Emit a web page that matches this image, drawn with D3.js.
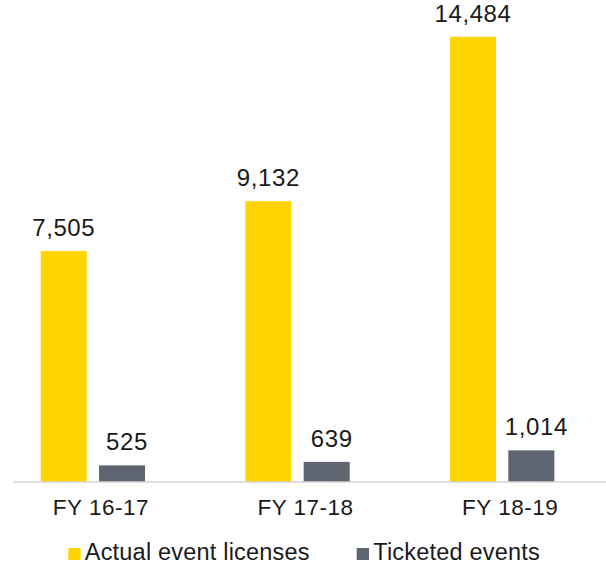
<!DOCTYPE html>
<html>
<head>
<meta charset="utf-8">
<script src="https://cdn.jsdelivr.net/npm/d3@7"></script>
<style>
  html, body { margin: 0; padding: 0; background: #fff; }
  svg { display: block; }
  text { font-family: "Liberation Sans", Arial, sans-serif; fill: #1a1a1a; }
</style>
</head>
<body>
<svg id="chart" width="606" height="565"></svg>
<script>
// Event licensing by financial year
const categories = ["FY 16-17", "FY 17-18", "FY 18-19"];
const seriesNames = ["Actual event licenses", "Ticketed events"];
const actualLicenses = [7505, 9132, 14484];
const ticketedEvents = [525, 639, 1014];
const seriesColors = ["#FFD400", "#5E6570"];

const seriesValues = [actualLicenses, ticketedEvents];
const rows = categories.map((c, i) => ({
  category: c,
  values: seriesNames.map((s, j) => ({ series: s, idx: j, value: seriesValues[j][i] }))
}));

const svg = d3.select("#chart");
const baseY = 481.5;

const x = d3.scaleBand().domain(categories).range([-9.45, 604.5]).paddingInner(0).paddingOuter(0);
const groupWidth = 104.3;
const groupOffset = (x.bandwidth() - groupWidth) / 2;
const xSub = d3.scaleBand().domain(seriesNames).range([groupOffset, groupOffset + groupWidth]).paddingInner(0.211);
const y = d3.scaleLinear().domain([0, 15500]).range([baseY, baseY - 15500 * 0.0307]);

const fmt = d3.format(",");

// bars
const groups = svg.append("g").selectAll("g")
  .data(rows).join("g")
  .attr("transform", d => `translate(${x(d.category)},0)`);

groups.selectAll("rect")
  .data(d => d.values).join("rect")
  .attr("x", d => xSub(d.series))
  .attr("y", d => y(d.value))
  .attr("width", xSub.bandwidth())
  .attr("height", d => y(0) - y(d.value))
  .attr("fill", d => seriesColors[d.idx]);

// value labels
groups.selectAll("text.val")
  .data(d => d.values).join("text")
  .attr("class", "val")
  .attr("x", d => xSub(d.series) + xSub.bandwidth() / 2 + (d.idx === 1 ? 5 : 0))
  .attr("y", d => y(d.value) - 15)
  .attr("text-anchor", "middle")
  .attr("font-size", 24)
  .style("letter-spacing", "0.6px")
  .text(d => fmt(d.value));

// baseline
svg.append("line")
  .attr("x1", 13).attr("x2", 606)
  .attr("y1", 482).attr("y2", 482)
  .attr("stroke", "#BFBFBF").attr("stroke-width", 1.2);

// category axis
const xAxis = svg.append("g")
  .attr("transform", `translate(0,${baseY})`)
  .call(d3.axisBottom(x).tickSize(0).tickPadding(0));
xAxis.select(".domain").remove();
xAxis.selectAll("text")
  .attr("y", 33)
  .attr("dy", 0)
  .attr("dx", 8)
  .attr("font-size", 22.5)
  .attr("font-family", "Liberation Sans, Arial, sans-serif")
  .attr("fill", "#1a1a1a")
  .style("letter-spacing", "0.5px");

// legend
const legendPos = [68.3, 356.7];
const legend = svg.append("g").selectAll("g")
  .data(seriesNames).join("g")
  .attr("transform", (d, i) => `translate(${legendPos[i]},0)`);
legend.append("rect")
  .attr("x", 0).attr("y", 548)
  .attr("width", 12.3).attr("height", 12)
  .attr("fill", (d, i) => seriesColors[i]);
legend.append("text")
  .attr("x", 16.5).attr("y", 560)
  .attr("font-size", 23.5)
  .style("letter-spacing", "0.2px")
  .text(d => d);
</script>
</body>
</html>
